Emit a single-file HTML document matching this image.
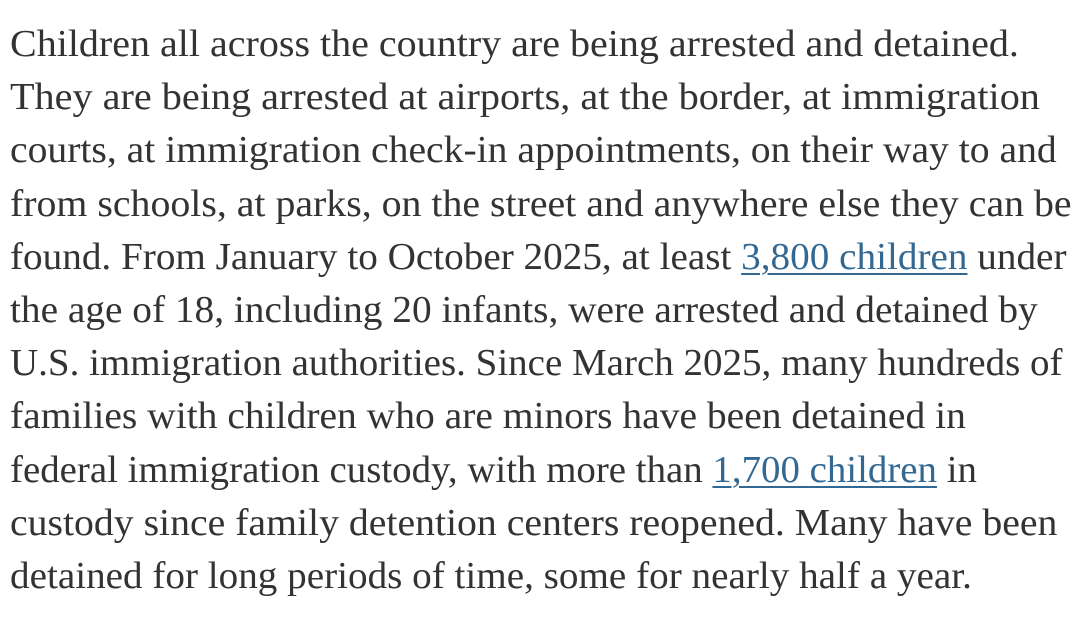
<!DOCTYPE html>
<html><head><meta charset="utf-8"><style>
html,body{margin:0;padding:0;background:#fff;width:1080px;height:622px;overflow:hidden}
.p{position:absolute;left:10px;top:18px;font-family:"Liberation Serif",serif;font-size:38px;line-height:53.2px;color:#333;white-space:nowrap}
.l{display:block;height:53.2px;transform-origin:0 50%}
a{color:#326891;text-decoration:underline;text-underline-offset:4px;text-decoration-thickness:2px}
</style></head><body>
<div class="p">
<span class="l" style="transform:scaleX(1.053)">Children all across the country are being arrested and detained.</span>
<span class="l" style="transform:scaleX(1.058)">They are being arrested at airports, at the border, at immigration</span>
<span class="l" style="transform:scaleX(1.043)">courts, at immigration check-in appointments, on their way to and</span>
<span class="l" style="transform:scaleX(1.048)">from schools, at parks, on the street and anywhere else they can be</span>
<span class="l" style="transform:scaleX(1.031)">found. From January to October 2025, at least <a>3,800 children</a> under</span>
<span class="l" style="transform:scaleX(1.035)">the age of 18, including 20 infants, were arrested and detained by</span>
<span class="l" style="transform:scaleX(1.026)">U.S. immigration authorities. Since March 2025, many hundreds of</span>
<span class="l" style="transform:scaleX(1.040)">families with children who are minors have been detained in</span>
<span class="l" style="transform:scaleX(1.023)">federal immigration custody, with more than <a>1,700 children</a> in</span>
<span class="l" style="transform:scaleX(1.046)">custody since family detention centers reopened. Many have been</span>
<span class="l" style="transform:scaleX(1.030)">detained for long periods of time, some for nearly half a year.</span>
</div>
</body></html>
